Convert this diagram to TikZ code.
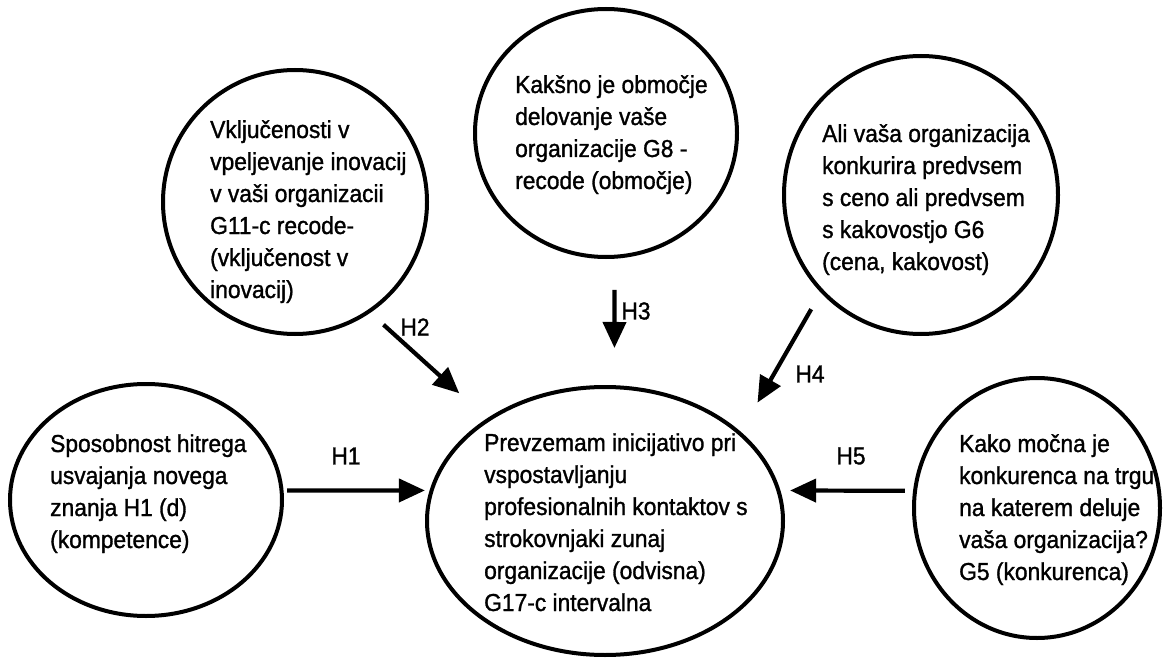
\documentclass[tikz,border=0pt]{standalone}
\usepackage{fontspec}
\setmainfont[FakeStretch=0.93, FakeBold=1.2]{Liberation Sans}
\usetikzlibrary{arrows.meta, shapes.geometric}

\tikzset{
  bubble/.style={draw, ellipse, line width=4pt, outer sep=0pt, inner sep=0pt},
  bubbletext/.style={anchor=base west, align=left, inner sep=0pt, font=\fontsize{24.5}{32}\selectfont},
  hlabel/.style={inner sep=0pt, font=\fontsize{24.5}{32}\selectfont},
  hyp/.style={line width=4.2pt, -{Triangle[length=26pt,width=23pt]}}
}

\begin{document}
\begin{tikzpicture}[x=1pt, y=-1pt]
                \fill[white] (0,0) rectangle (1163,658);
                \useasboundingbox (0,0) rectangle (1163,658);

                % Variables
                \node[bubble, minimum width=272pt, minimum height=232pt] (comp) at (146,500) {};
                \node[bubble, minimum width=264pt, minimum height=264pt] (innov) at (295,202) {};
                \node[bubble, minimum width=262pt, minimum height=248pt] (area) at (606,133) {};
                \node[bubble, minimum width=274pt, minimum height=278pt] (price) at (921,195) {};
                \node[bubble, minimum width=356pt, minimum height=268pt] (dep) at (605,521) {};
                \node[bubble, minimum width=246pt, minimum height=260pt] (market) at (1037,508) {};

                % Texts (placed at the baseline of the last line)
                \node[bubbletext] (comptxt) at (50,548) {Sposobnost hitrega\\usvajanja novega\\znanja H1 (d)\\(kompetence)};
                \node[bubbletext] (innovtxt) at (210,298) {Vključenosti v\\vpeljevanje inovacij\\v vaši organizacii\\G11-c recode-\\(vključenost v\\inovacij)};
                \node[bubbletext] (areatxt) at (515,189) {Kakšno je območje\\delovanje vaše\\organizacije G8 -\\recode (območje)};
                \node[bubbletext] (pricetxt) at (822,270) {Ali vaša organizacija\\konkurira predvsem\\s ceno ali predvsem\\s kakovostjo G6\\(cena, kakovost)};
                \node[bubbletext] (deptxt) at (484,611) {Prevzemam inicijativo pri\\vspostavljanju\\profesionalnih kontaktov s\\strokovnjaki zunaj\\organizacije (odvisna)\\G17-c intervalna};
                \node[bubbletext] (markettxt) at (959,580) {Kako močna je\\konkurenca na trgu\\na katerem deluje\\vaša organizacija?\\G5 (konkurenca)};

                % Hypotheses
                \draw[hyp, shorten <=5.5pt, shorten >=6.8pt] (comp.4) -- (dep.170);
                \draw[hyp, shorten <=19.8pt, shorten >=39.4pt] (innov.-56) -- (dep.139);
                \draw[hyp, shorten <=33.2pt, shorten >=39.2pt] (area.-86) -- (dep.86);
                \draw[hyp, shorten <=21.2pt, shorten >=35.6pt] (price.-136) -- (dep.33);
                \draw[hyp, shorten <=10.2pt, shorten >=11.8pt] (market.172) -- (dep.10);

                % Labels
                \node[hlabel] (lh1) at (346,456) {H1};
                \node[hlabel] (lh2) at (415,327) {H2};
                \node[hlabel] (lh3) at (636,311) {H3};
                \node[hlabel] (lh4) at (810,374) {H4};
                \node[hlabel] (lh5) at (851,456) {H5};
            \end{tikzpicture}
\end{document}
